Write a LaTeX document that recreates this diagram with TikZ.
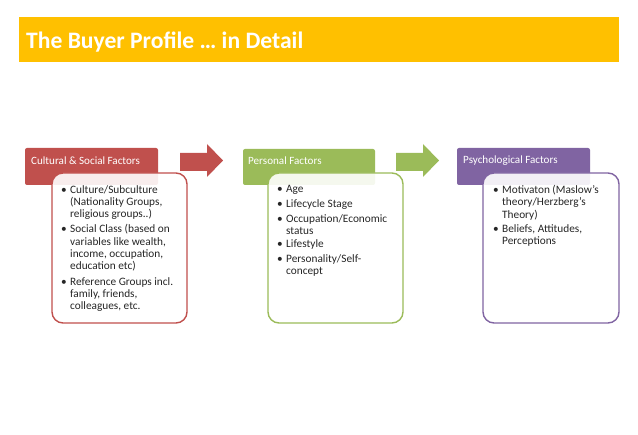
\documentclass[tikz,border=0pt]{standalone}
\usepackage{fontspec}
\setmainfont{Carlito}
\definecolor{titleyellow}{HTML}{FFC000}
\definecolor{factorred}{HTML}{C0504D}
\definecolor{factorgreen}{HTML}{9BBB59}
\definecolor{factorpurple}{HTML}{8064A2}
\tikzset{
    headbox/.style={rounded corners=2pt},
    headtext/.style={anchor=west,inner sep=0pt,text=white,font=\fontsize{11.1}{13}\selectfont},
    listbox/.style={fill=white,fill opacity=0.9,line width=1.4pt,rounded corners=11pt},
    itemtext/.style={anchor=north west,inner sep=0pt,align=left,text=black!85,font=\fontsize{11.3}{12.3}\selectfont},
}
\newcommand{\bitem}{\llap{\textbullet\hspace{3.5pt}}}
\begin{document}
\begin{tikzpicture}[x=1pt,y=-1pt]
        \useasboundingbox (0,0) rectangle (638,435);

        % title
        \fill[titleyellow] (19,17) rectangle (619,62);
        \node[anchor=west,inner sep=0pt,text=white,font=\fontsize{23.6}{28}\selectfont\bfseries] (title) at (26,42) {The Buyer Profile … in Detail};

        % cultural
        \fill[factorred,headbox] (25,148) rectangle (158,185);
        \node[headtext] (culturalhead) at (31,160.5) {Cultural \& Social Factors};
        \draw[factorred,listbox] (52,173) rectangle (187,323);
        \node[itemtext] (culture) at (70,185) {\bitem Culture/Subculture\\(Nationality Groups,\\religious groups..)};
        \node[itemtext] (social) at (70,224.5) {\bitem Social Class (based on\\variables like wealth,\\income, occupation,\\education etc)};
        \node[itemtext] (reference) at (70,277) {\bitem Reference Groups incl.\\family, friends,\\colleagues, etc.};

        % first arrow
        \fill[factorred] (180,153) -- (207,153) -- (207,144) -- (223,160.5) -- (207,177) -- (207,171) -- (180,171) -- cycle;

        % personal
        \fill[factorgreen,headbox] (243,149) rectangle (375,185);
        \node[headtext] (personalhead) at (248,160.5) {Personal Factors};
        \draw[factorgreen,listbox] (268,173) rectangle (403,323);
        \node[itemtext] (age) at (286,185) {\bitem Age};
        \node[itemtext] (lifecycle) at (286,199) {\bitem Lifecycle Stage};
        \node[itemtext] (occupation) at (286,214) {\bitem Occupation/Economic\\status};
        \node[itemtext] (lifestyle) at (286,239.5) {\bitem Lifestyle};
        \node[itemtext] (personality) at (286,254.5) {\bitem Personality/Self-\\concept};

        % second arrow
        \fill[factorgreen] (396,153) -- (423,153) -- (423,144) -- (439,160.5) -- (423,177) -- (423,171) -- (396,171) -- cycle;

        % psychological
        \fill[factorpurple,headbox] (457,148) rectangle (590,185);
        \node[headtext] (psychhead) at (463,160.5) {Psychological Factors};
        \draw[factorpurple,listbox] (483,173) rectangle (619,323);
        \node[itemtext] (motivation) at (502,185) {\bitem Motivaton (Maslow’s\\theory/Herzberg’s\\Theory)};
        \node[itemtext] (beliefs) at (502,224.5) {\bitem Beliefs, Attitudes,\\Perceptions};
    \end{tikzpicture}
\end{document}
